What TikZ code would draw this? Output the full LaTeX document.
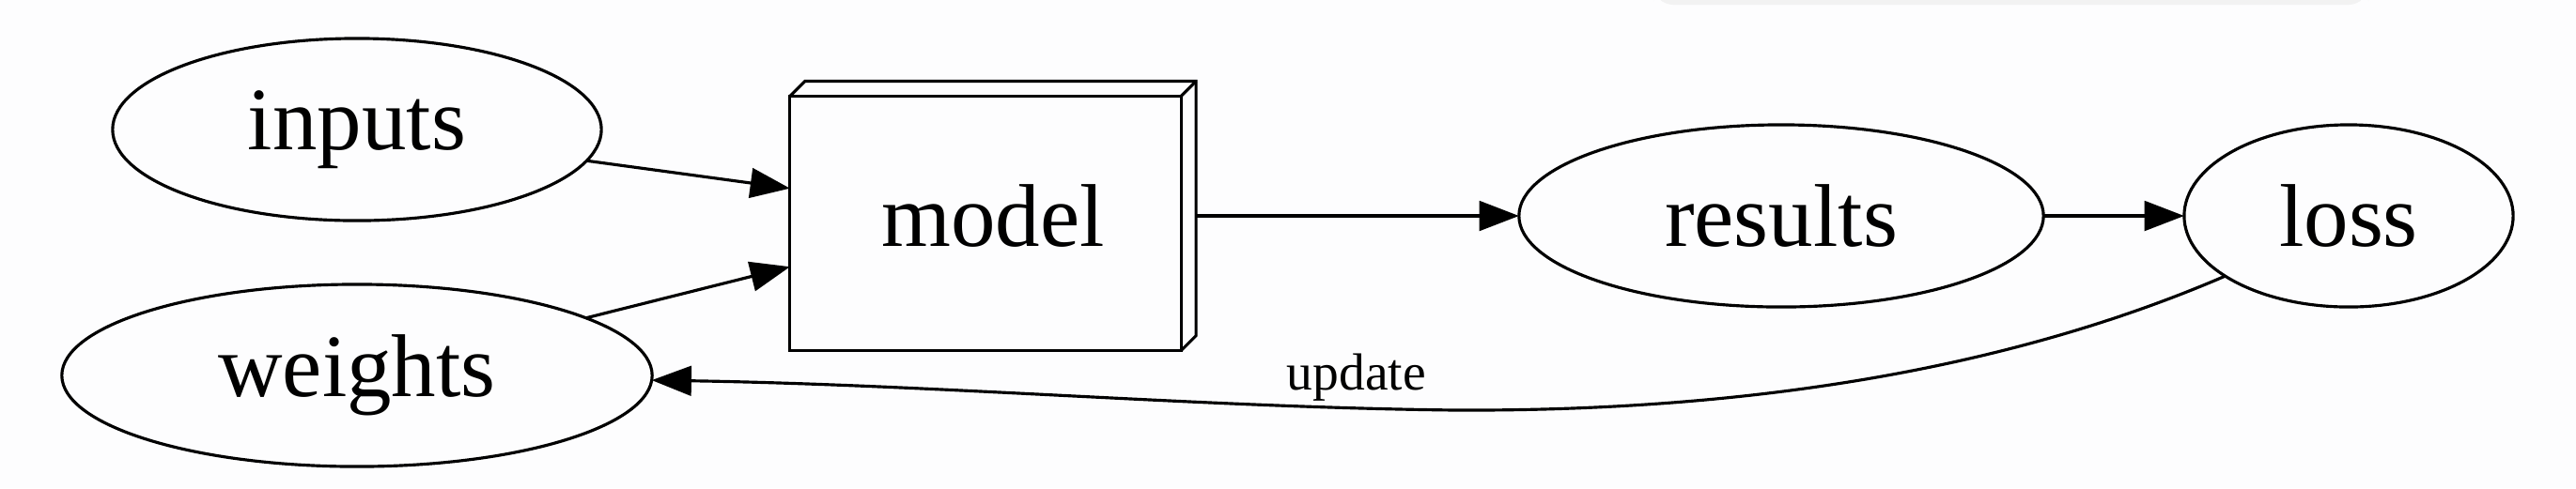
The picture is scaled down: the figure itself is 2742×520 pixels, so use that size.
\documentclass[tikz,border=0pt]{standalone}
\usepackage{fontspec}
\setmainfont{Liberation Serif}
\usetikzlibrary{shapes.geometric,arrows.meta,calc}
\definecolor{bgcol}{RGB}{253,253,254}

\begin{document}
\begin{tikzpicture}[x=0.01cm, y=-0.01cm, line width=0.9pt,
    blob/.style={ellipse, draw, inner sep=0pt, outer sep=0pt, minimum height=1.94cm, font=\fontsize{27}{32}\selectfont},
    flow/.style={-{Triangle[length=12pt, width=9pt]}}]
      % canvas
      \fill[bgcol] (0,0) rectangle (2742,520);
      \useasboundingbox (0,0) rectangle (2742,520);
      \fill[black!5, rounded corners=6pt] (1760,-20) rectangle (2521,5);

      % Ellipse nodes
      \node[blob, minimum width=5.2cm] (inputs) at (380,138) {inputs};
      \node[blob, minimum width=6.28cm] (weights) at (380,400) {weights};
      \node[blob, minimum width=5.58cm] (results) at (1896,230) {results};
      \node[blob, minimum width=3.5cm] (loss) at (2500,230) {loss};

      % 3d box
      \node[inner sep=0pt, outer sep=0pt, minimum width=4.32cm, minimum height=2.87cm,
        font=\fontsize{27}{32}\selectfont] (model) at (1057,230) {model};
      \draw (model.south west) rectangle ($(model.north east)+(-16,16)$);
      \draw ($(model.north west)+(0,16)$) -- ++(16,-16) -- (model.north east)
        -- ($(model.south east)+(0,-16)$) -- ++(-16,16);
      \draw ($(model.north east)+(-16,16)$) -- (model.north east);

      % Forward edges
      \draw[flow] (inputs) -- (model);
      \draw[flow] (weights) -- (model);
      \draw[flow] (model) -- (results);
      \draw[flow] (results) -- (loss);

      % Feedback edge
      \draw[flow] (loss.206) .. controls (2100,410) and (1800,438) .. (1550,437)
        .. controls (1280,434) and (1000,410) .. (weights);
      \node[anchor=base, font=\fontsize{15.8}{19}\selectfont] (update) at (1444,415) {update};
\end{tikzpicture}
\end{document}
